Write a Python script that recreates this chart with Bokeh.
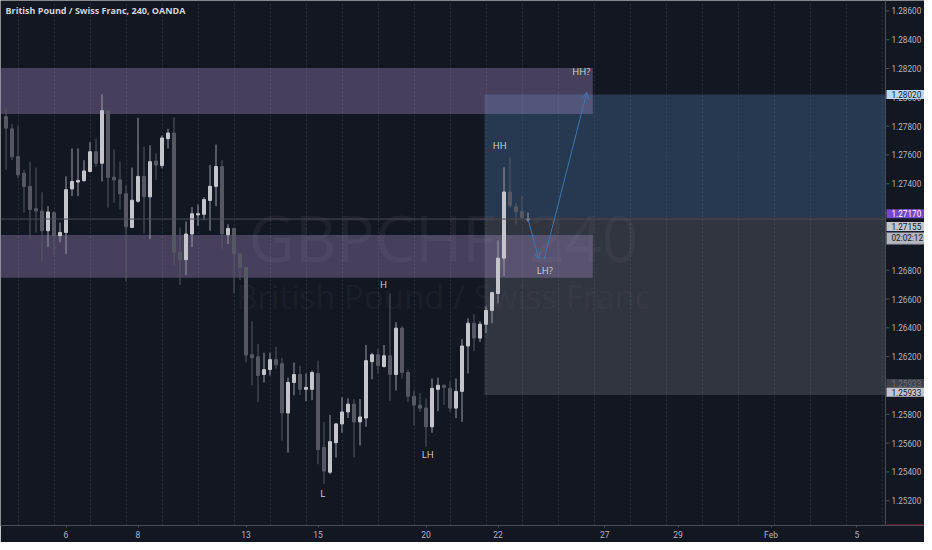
from bokeh.plotting import figure
from bokeh.models import (ColumnDataSource, FixedTicker, Span, Label, Arrow, OpenHead, Range1d)
from bokeh.core.properties import value
from bokeh.embed import file_html
from bokeh.resources import INLINE

# ---------------- data (GBPCHF, 4h bars) ----------------
opens = [1.27866, 1.27781, 1.27588, 1.27473, 1.27382, 1.27227, 1.27211, 1.27074, 1.27199, 1.27040,
         1.27062, 1.27364, 1.27412, 1.27421, 1.27485, 1.27622, 1.27542, 1.27905, 1.27446, 1.27427,
         1.27331, 1.27097, 1.27279, 1.27451, 1.27309, 1.27558, 1.27526, 1.27713, 1.27752, 1.26925,
         1.26873, 1.27051, 1.27184, 1.27188, 1.27284, 1.27382, 1.27519, 1.27046, 1.27090, 1.26914,
         1.26818, 1.26213, 1.26199, 1.26076, 1.26110, 1.26179, 1.26151, 1.25809, 1.26021, 1.26076,
         1.25973, 1.25973, 1.26083, 1.25569, 1.25398, 1.25603, 1.25733, 1.25816, 1.25870, 1.25747,
         1.25774, 1.26165, 1.26213, 1.26131, 1.26206, 1.26076, 1.26398, 1.26090, 1.25925, 1.25864,
         1.25843, 1.25713, 1.25973, 1.26001, 1.25980, 1.25843, 1.25959, 1.26274, 1.26432, 1.26329,
         1.26425, 1.26521, 1.26638, 1.26884, 1.27343, 1.27240, 1.27206, 1.27150]
highs = [1.27930, 1.27816, 1.27804, 1.27496, 1.27553, 1.27512, 1.27341, 1.27245, 1.27211, 1.27131,
         1.27451, 1.27645, 1.27645, 1.27564, 1.27690, 1.27713, 1.28021, 1.27910, 1.27638, 1.27553,
         1.27389, 1.27512, 1.27857, 1.27656, 1.27667, 1.27610, 1.27736, 1.27781, 1.27862, 1.27097,
         1.27138, 1.27238, 1.27256, 1.27307, 1.27530, 1.27672, 1.27564, 1.27119, 1.27095, 1.26918,
         1.26822, 1.26446, 1.26288, 1.26227, 1.26227, 1.26268, 1.26192, 1.26055, 1.26158, 1.26138,
         1.26083, 1.26103, 1.26172, 1.25747, 1.25795, 1.25740, 1.25918, 1.25911, 1.25905, 1.25905,
         1.26281, 1.26227, 1.26254, 1.26281, 1.26638, 1.26439, 1.26412, 1.26110, 1.25966, 1.25946,
         1.25911, 1.26048, 1.26055, 1.26007, 1.26028, 1.26048, 1.26322, 1.26466, 1.26494, 1.26446,
         1.26549, 1.26651, 1.27007, 1.27514, 1.27583, 1.27268, 1.27316, 1.27199]
lows = [1.27496, 1.27564, 1.27439, 1.27199, 1.27016, 1.27062, 1.26857, 1.26960, 1.26903, 1.26994,
        1.26914, 1.27314, 1.27314, 1.27416, 1.27480, 1.27519, 1.27416, 1.27234, 1.27268, 1.27222,
        1.26720, 1.27092, 1.27268, 1.27055, 1.27016, 1.27427, 1.27508, 1.27645, 1.26834, 1.26697,
        1.26766, 1.26960, 1.27108, 1.27147, 1.27074, 1.27245, 1.26948, 1.26982, 1.26640, 1.26731,
        1.26160, 1.26001, 1.25884, 1.26021, 1.26069, 1.26117, 1.25617, 1.25535, 1.25932, 1.25932,
        1.25891, 1.25898, 1.25453, 1.25316, 1.25384, 1.25500, 1.25672, 1.25774, 1.25500, 1.25583,
        1.25713, 1.26042, 1.26083, 1.26125, 1.25891, 1.25966, 1.26048, 1.25884, 1.25720, 1.25816,
        1.25576, 1.25672, 1.25822, 1.25864, 1.25816, 1.25774, 1.25747, 1.26083, 1.26240, 1.26302,
        1.26364, 1.26432, 1.26569, 1.26761, 1.27234, 1.27117, 1.27151, 1.27138]
closes = [1.27786, 1.27588, 1.27462, 1.27382, 1.27222, 1.27211, 1.27074, 1.27204, 1.27040, 1.27062,
          1.27359, 1.27416, 1.27423, 1.27489, 1.27622, 1.27542, 1.27907, 1.27444, 1.27427, 1.27331,
          1.27101, 1.27286, 1.27451, 1.27309, 1.27553, 1.27530, 1.27718, 1.27752, 1.26925, 1.26875,
          1.27051, 1.27192, 1.27192, 1.27290, 1.27382, 1.27519, 1.27051, 1.27090, 1.26914, 1.26818,
          1.26211, 1.26192, 1.26069, 1.26110, 1.26179, 1.26144, 1.25809, 1.26021, 1.26076, 1.25973,
          1.25987, 1.26090, 1.25555, 1.25405, 1.25610, 1.25733, 1.25816, 1.25870, 1.25747, 1.25781,
          1.26172, 1.26213, 1.26138, 1.26206, 1.26076, 1.26398, 1.26090, 1.25925, 1.25864, 1.25843,
          1.25713, 1.25980, 1.26001, 1.25987, 1.25843, 1.25959, 1.26274, 1.26432, 1.26329, 1.26425,
          1.26521, 1.26644, 1.26884, 1.27343, 1.27247, 1.27206, 1.27165, 1.27155]

price_ticks = [1.252, 1.254, 1.256, 1.258, 1.260, 1.262, 1.264, 1.266, 1.268, 1.270,
               1.272, 1.274, 1.276, 1.278, 1.280, 1.282, 1.284, 1.286]
day_tick_pos = [11, 23, 41, 53, 71, 83, 100.8, 113, 128.5, 142.8]
day_tick_labels = ["6", "8", "13", "15", "20", "22", "27", "29", "Feb", "5"]

# visible extent (bars, price) and where the price scale begins
view_bars = (0.0833, 154.0833)
view_price = (1.25028, 1.28672)
scale_bar = 147.58

# drawings
zone_upper = (1.27884, 1.28204)
zone_lower = (1.26747, 1.27044)
zone_end_bar = 98.8
entry_price = 1.27170
target_price = 1.28020
stop_price = 1.25933
position_start_bar = 80.75
last_price = 1.27155
countdown = "02:02:12"

path_x = [88.0, 89.8, 90.7, 97.8]
path_y = [1.27155, 1.26877, 1.26877, 1.28035]

note_text = ["HH?", "HH", "LH?", "H", "LH", "L"]
note_x = [96.9, 83.3, 90.8, 63.9, 71.3, 53.8]
note_y = [1.28179, 1.27665, 1.26795, 1.26699, 1.25521, 1.25247]

title_text = "British Pound / Swiss Franc, 240, OANDA"
wm_line1 = "GBPCHF, 240"
wm_line2 = "British Pound / Swiss Franc"

# price tags on the scale (display level, text)
tag_levels = [1.28020, 1.26014, 1.25953, 1.27192, 1.27103, 1.27021]
tag_texts = ["1.28020", "1.25933", "1.25933", "1.27170", "1.27155", countdown]

# ---------------- styling ----------------
BG = "#131722"
UP_BODY = "#c3c5cb"
UP_WICK = "#9a9da6"
DN_BODY = "#555862"
AX_TXT = "#b2b5be"
AX_LINE = "#4c4f5a"
BLUE = "#3b78b5"
FONT = "Roboto"
SCALE_FONT_SIZE = "8.2px"

n = len(opens)
bars = list(range(1, n + 1))
is_up = [c >= o for o, c in zip(opens, closes)]
src = ColumnDataSource(dict(
    x=bars, h=highs, l=lows,
    top=[max(o, c) for o, c in zip(opens, closes)],
    bottom=[min(o, c) for o, c in zip(opens, closes)],
    body=[UP_BODY if u else DN_BODY for u in is_up],
    wick=[UP_WICK if u else DN_BODY for u in is_up],
))

W, H = 924, 542
p = figure(width=W, height=H, output_backend="svg", toolbar_location=None,
           x_range=Range1d(*view_bars), y_range=Range1d(*view_price),
           background_fill_color=BG, border_fill_color=BG, outline_line_color=None,
           min_border_left=0, min_border_top=0, min_border_right=0, min_border_bottom=14)
p.yaxis.visible = False

# grids
p.ygrid.grid_line_color = None
p.xgrid.ticker = FixedTicker(ticks=list(range(3, 148, 6)))
p.xgrid.grid_line_color = "#2a2e39"
p.xgrid.grid_line_dash = "2 2"

# watermark
wm_x = 73.9
p.text(x=[wm_x], y=[1.27028], text=[wm_line1], text_align="center", text_baseline="middle",
       text_font=value("Open Sans"), text_font_size="64px", text_color="#ffffff", text_alpha=0.05)
p.text(x=[wm_x], y=[1.26617], text=[wm_line2], text_align="center", text_baseline="middle",
       text_font=value("Open Sans"), text_font_size="33px", text_color="#ffffff", text_alpha=0.05)

# position tool boxes
p.quad(left=[position_start_bar], right=[scale_bar], bottom=[entry_price], top=[target_price],
       fill_color="#4a77a8", fill_alpha=0.35, line_color=None)
p.quad(left=[position_start_bar], right=[scale_bar], bottom=[stop_price], top=[entry_price],
       fill_color="#787b86", fill_alpha=0.3, line_color=None)

# supply/demand zones
p.quad(left=[-10, -10], right=[zone_end_bar, zone_end_bar],
       bottom=[zone_upper[0], zone_lower[0]], top=[zone_upper[1], zone_lower[1]],
       fill_color="#a08ac8", fill_alpha=0.36, line_color=None)

# candles
p.segment(x0="x", y0="h", x1="x", y1="l", line_color="wick", line_width=1, source=src)
p.vbar(x="x", top="top", bottom="bottom", width=0.5, fill_color="body", line_color="body",
       line_width=1, source=src)

# current price line (up to the price scale)
p.segment(x0=[view_bars[0]], y0=[last_price], x1=[scale_bar], y1=[last_price],
          line_color="#4a4e5a", line_width=1)

# projected path arrows
for i in (0, 2):
    p.add_layout(Arrow(end=OpenHead(size=7, line_color=BLUE, line_width=1),
                       x_start=path_x[i], y_start=path_y[i],
                       x_end=path_x[i + 1], y_end=path_y[i + 1],
                       line_color=BLUE, line_width=1))

# swing notes
p.text(x=note_x, y=note_y, text=note_text, text_align="center", text_baseline="middle",
       text_font=value("Open Sans"), text_font_size="9.5px", text_color="#d1d4dc")

# ---------------- price scale (right) ----------------
p.add_layout(Span(location=scale_bar, dimension="height", line_color=AX_LINE, line_width=1))
p.ray(x=[scale_bar] * len(price_ticks), y=price_ticks, length=4, length_units="screen",
      angle=0, line_color=AX_LINE, line_width=1)
p.text(x=[scale_bar] * len(price_ticks), y=price_ticks,
       text=["%.5f" % t for t in price_ticks], x_offset=6,
       text_align="left", text_baseline="middle", text_font=value(FONT),
       text_font_size=SCALE_FONT_SIZE, text_color=AX_TXT)
# red marker at the foot of the scale
p.segment(x0=[scale_bar + 0.3], y0=[view_price[0]], x1=[view_bars[1]], y1=[view_price[0]],
          line_color="#a3232c", line_width=2)

tag_bg = ["#bcd8f2", "#3f424d", "#c4c6cc", "#7048c8", "#c4c6cc", "#b4b7bf"]
tag_fg = ["#131722", "#6d707a", "#131722", "#ffffff", "#131722", "#131722"]
tag_border = [None, None, None, None, None, "#5d606b"]
for lvl, t, bg, fg, bd in zip(tag_levels, tag_texts, tag_bg, tag_fg, tag_border):
    p.add_layout(Label(x=scale_bar, y=lvl, x_offset=1, text=t,
                       text_align="left", text_baseline="middle", text_font=FONT,
                       text_font_size=SCALE_FONT_SIZE, text_color=fg, background_fill_color=bg,
                       border_line_color=bd,
                       padding=dict(left=5, right=12, top=1, bottom=1)))

# ---------------- time axis ----------------
p.xaxis.ticker = FixedTicker(ticks=day_tick_pos)
p.xaxis.major_label_overrides = {k: v for k, v in zip(day_tick_pos, day_tick_labels)}
p.xaxis.axis_line_color = AX_LINE
p.xaxis.major_tick_line_color = AX_LINE
p.xaxis.minor_tick_line_color = None
p.xaxis.major_tick_in = 0
p.xaxis.major_tick_out = 2
p.xaxis.major_label_standoff = 2
p.xaxis.major_label_text_color = AX_TXT
p.xaxis.major_label_text_font = FONT
p.xaxis.major_label_text_font_size = "8.5px"

# chart title (legend)
p.add_layout(Label(x=5, y=view_price[1], y_offset=-10, text=title_text,
                   x_units="screen", text_align="left", text_baseline="middle",
                   text_font="Open Sans", text_font_style="bold", text_font_size="9px",
                   text_color="#d1d4dc"))

open("out.html", "w").write(file_html(p, INLINE))
